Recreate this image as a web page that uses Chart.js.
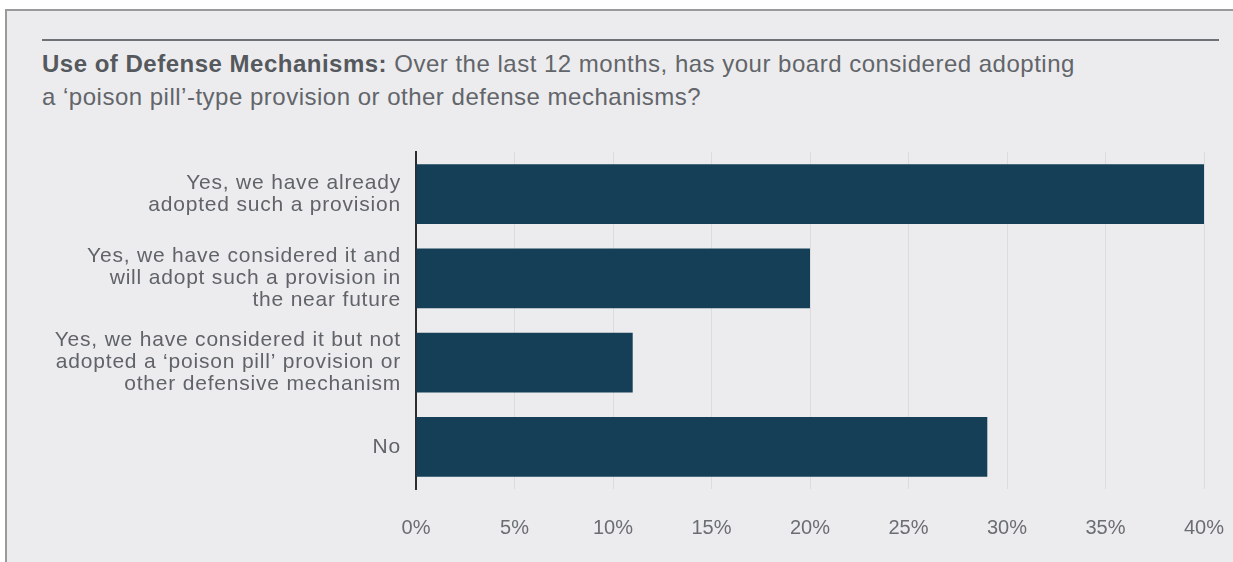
<!DOCTYPE html>
<html>
<head>
<meta charset="utf-8">
<script src="https://cdn.jsdelivr.net/npm/chart.js@4"></script>
<style>
  html, body { margin: 0; padding: 0; background: #ffffff; }
  body { width: 1233px; height: 562px; position: relative; overflow: hidden; font-family: "Liberation Sans", Arial, sans-serif; }
  #panel {
    position: absolute; left: 5px; top: 9px; width: 1240px; height: 560px;
    background: #ececee; border-top: 2px solid #9a9a9c; border-left: 2px solid #9a9a9c;
  }
  #rule { position: absolute; left: 42px; top: 39px; width: 1177px; height: 2px; background: #6e7175; }
  #title {
    position: absolute; left: 42px; top: 47px; font-size: 24px; line-height: 33px;
    letter-spacing: 0.5px; color: #62656a; white-space: nowrap;
  }
  #title b { color: #55585d; }
  #wrap { position: absolute; left: 0; top: 0; width: 1233px; height: 562px; }
</style>
</head>
<body>
<div id="panel"></div>
<div id="rule"></div>
<div id="title"><b>Use of Defense Mechanisms:</b> Over the last 12 months, has your board considered adopting<br>a ‘poison pill’-type provision or other defense mechanisms?</div>
<div id="wrap"><canvas id="chart" width="1233" height="562"></canvas></div>
<script>
// Data
const categories = [
    ['Yes, we have already', 'adopted such a provision'],
    ['Yes, we have considered it and', 'will adopt such a provision in', 'the near future'],
    ['Yes, we have considered it but not', 'adopted a ‘poison pill’ provision or', 'other defensive mechanism'],
    'No'
];
const shares = [40, 20, 11, 29];
const tickValues = [0, 5, 10, 15, 20, 25, 30, 35, 40];

// a bit of letter spacing for the category labels (drawn after the bars, see ticks.z)
const labelSpacing = {
    id: 'labelSpacing',
    afterDatasetsDraw(chart) { chart.ctx.letterSpacing = '0.8px'; },
    afterDraw(chart) { chart.ctx.letterSpacing = '0px'; }
};

const ctx = document.getElementById('chart').getContext('2d');
new Chart(ctx, {
    type: 'bar',
    data: {
        labels: categories,
        datasets: [{
            data: shares,
            backgroundColor: '#143f57',
            borderWidth: 0,
            categoryPercentage: 1,
            barPercentage: 0.71
        }]
    },
    plugins: [labelSpacing],
    options: {
        indexAxis: 'y',
        responsive: false,
        animation: false,
        layout: { padding: { top: 152, right: 29, bottom: 0, left: 0 } },
        plugins: { legend: { display: false }, tooltip: { enabled: false } },
        scales: {
            x: {
                min: 0,
                max: 40,
                afterBuildTicks: axis => { axis.ticks = tickValues.map(v => ({ value: v })); },
                afterFit: axis => {
                    axis.height = 73;
                    axis.paddingLeft = 0;
                    axis.paddingRight = 0;
                },
                grid: { color: '#dcdcdf', lineWidth: 1, drawTicks: false },
                border: { display: false },
                ticks: {
                    padding: 27,
                    color: '#6a6d72',
                    font: { family: 'Liberation Sans', size: 20 },
                    callback: v => v + '%'
                }
            },
            y: {
                afterFit: axis => { axis.width = 416; },
                grid: { display: false, drawTicks: false },
                border: { display: true, color: '#2b2d30', width: 2 },
                ticks: {
                    z: 1,
                    padding: 15,
                    color: '#606368',
                    font: { family: 'Liberation Sans', size: 21, lineHeight: 1.05 }
                }
            }
        }
    }
});
</script>
</body>
</html>
